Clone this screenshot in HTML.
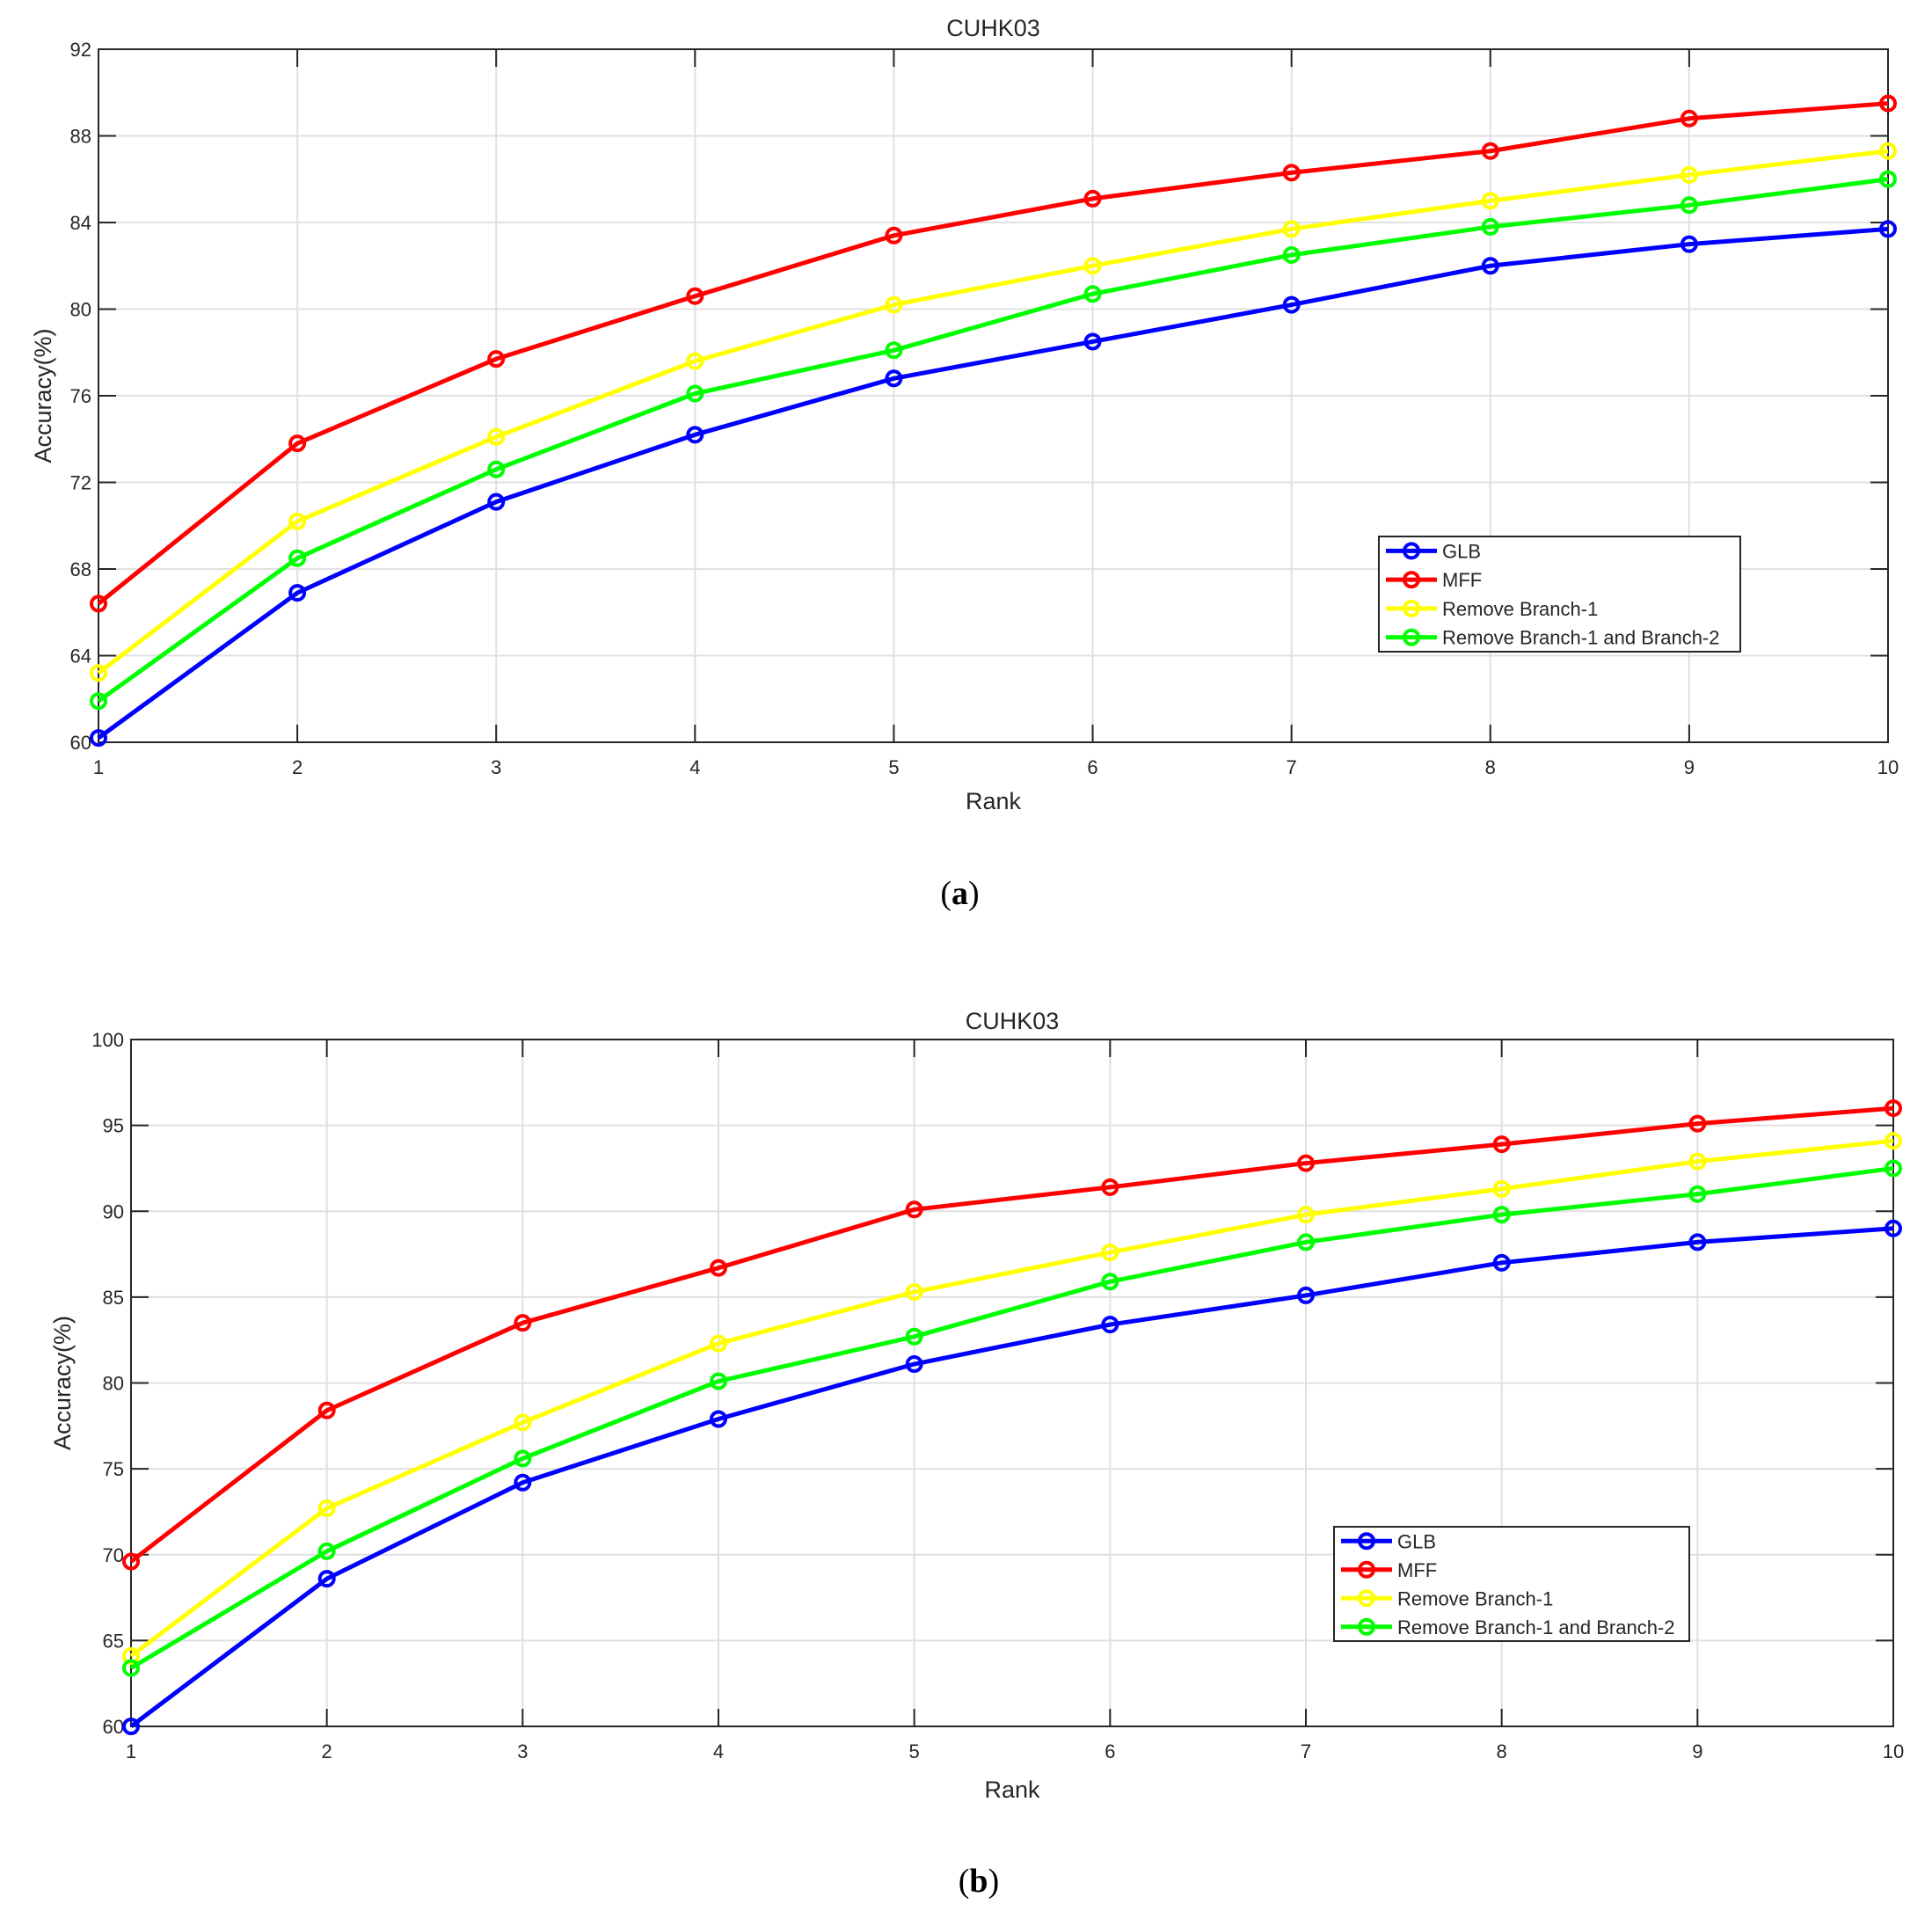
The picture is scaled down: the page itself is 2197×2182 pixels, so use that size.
<!DOCTYPE html>
<html><head><meta charset="utf-8"><style>
html,body{margin:0;padding:0;background:#fff;}
svg{display:block;}
text{font-family:"Liberation Sans",sans-serif;fill:#262626;}
</style></head><body>
<svg id="s" width="2197" height="2182" viewBox="0 0 2197 2182" xmlns="http://www.w3.org/2000/svg"></svg>
<script>
const S=document.getElementById('s');let h='';
const cols=['#0000ff','#ff0000','#ffff00','#00ff00'];
const names=['GLB','MFF','Remove Branch-1','Remove Branch-1 and Branch-2'];
function chart(o){
 const {L,R,T,B,ymin,ymax,ystep,data,leg,title,titleY,rankY,ylabX,cap,capY}=o;
 const X=i=>L+(R-L)*(i)/9, Y=v=>B-(B-T)*(v-ymin)/(ymax-ymin);
 for(let i=1;i<9;i++)h+=`<line x1="${X(i)}" y1="${T}" x2="${X(i)}" y2="${B}" stroke="#e0e0e0" stroke-width="2"/>`;
 for(let v=ymin+ystep;v<ymax;v+=ystep)h+=`<line x1="${L}" y1="${Y(v)}" x2="${R}" y2="${Y(v)}" stroke="#e0e0e0" stroke-width="2"/>`;
 h+=`<rect x="${L}" y="${T}" width="${R-L}" height="${B-T}" fill="none" stroke="#262626" stroke-width="2"/>`;
 for(let i=0;i<10;i++){const x=X(i);
  h+=`<line x1="${x}" y1="${T}" x2="${x}" y2="${T+20}" stroke="#262626" stroke-width="2"/><line x1="${x}" y1="${B}" x2="${x}" y2="${B-20}" stroke="#262626" stroke-width="2"/>`;
  h+=`<text x="${x}" y="${B+36}" font-size="22" text-anchor="middle">${i+1}</text>`;}
 for(let v=ymin;v<=ymax;v+=ystep){const y=Y(v);
  h+=`<line x1="${L}" y1="${y}" x2="${L+20}" y2="${y}" stroke="#262626" stroke-width="2"/><line x1="${R}" y1="${y}" x2="${R-20}" y2="${y}" stroke="#262626" stroke-width="2"/>`;
  h+=`<text x="${L-8}" y="${y+8}" font-size="22" text-anchor="end">${v}</text>`;}
 h+=`<text x="${(L+R)/2}" y="${titleY}" font-size="27" text-anchor="middle">${title}</text>`;
 h+=`<text x="${(L+R)/2}" y="${rankY}" font-size="27" text-anchor="middle">Rank</text>`;
 h+=`<text transform="translate(${ylabX},${(T+B)/2}) rotate(-90)" font-size="27" text-anchor="middle">Accuracy(%)</text>`;
 data.forEach((d,k)=>{
  h+=`<polyline fill="none" stroke="${cols[k]}" stroke-width="5" stroke-linejoin="round" points="${d.map((v,i)=>X(i)+','+Y(v)).join(' ')}"/>`;
  d.forEach((v,i)=>h+=`<circle cx="${X(i)}" cy="${Y(v)}" r="8" fill="none" stroke="${cols[k]}" stroke-width="4"/>`);
 });
 const [lx,ly,lx2,ly2]=leg;
 h+=`<rect x="${lx}" y="${ly}" width="${lx2-lx}" height="${ly2-ly}" fill="#fff" stroke="#262626" stroke-width="2"/>`;
 const rs=(ly2-ly)/4;
 names.forEach((n,k)=>{const y=ly+rs*(k+0.5);
  h+=`<line x1="${lx+8}" y1="${y}" x2="${lx+66}" y2="${y}" stroke="${cols[k]}" stroke-width="5"/><circle cx="${lx+37}" cy="${y}" r="8" fill="none" stroke="${cols[k]}" stroke-width="4"/>`;
  h+=`<text x="${lx+72}" y="${y+8}" font-size="22">${n}</text>`;});
 h+=`<text x="${(L+R)/2-38}" y="${capY}" font-size="38" text-anchor="middle" style="font-family:'Liberation Serif',serif;fill:#000">(<tspan font-weight="bold">${cap}</tspan>)</text>`;
}
chart({L:112,R:2147,T:56,B:844,ymin:60,ymax:92,ystep:4,title:'CUHK03',titleY:41,rankY:920,ylabX:58,cap:'a',capY:1028,
 leg:[1568,610,1979,741],
 data:[[60.2,66.9,71.1,74.2,76.8,78.5,80.2,82.0,83.0,83.7],
 [66.4,73.8,77.7,80.6,83.4,85.1,86.3,87.3,88.8,89.5],
 [63.2,70.2,74.1,77.6,80.2,82.0,83.7,85.0,86.2,87.3],
 [61.9,68.5,72.6,76.1,78.1,80.7,82.5,83.8,84.8,86.0]]});
chart({L:149,R:2153,T:1182,B:1963,ymin:60,ymax:100,ystep:5,title:'CUHK03',titleY:1170,rankY:2044,ylabX:80,cap:'b',capY:2151,
 leg:[1517,1736,1921,1866],
 data:[[60.0,68.6,74.2,77.9,81.1,83.4,85.1,87.0,88.2,89.0],
 [69.6,78.4,83.5,86.7,90.1,91.4,92.8,93.9,95.1,96.0],
 [64.1,72.7,77.7,82.3,85.3,87.6,89.8,91.3,92.9,94.1],
 [63.4,70.2,75.6,80.1,82.7,85.9,88.2,89.8,91.0,92.5]]});
S.innerHTML=h;
</script>
</body></html>
